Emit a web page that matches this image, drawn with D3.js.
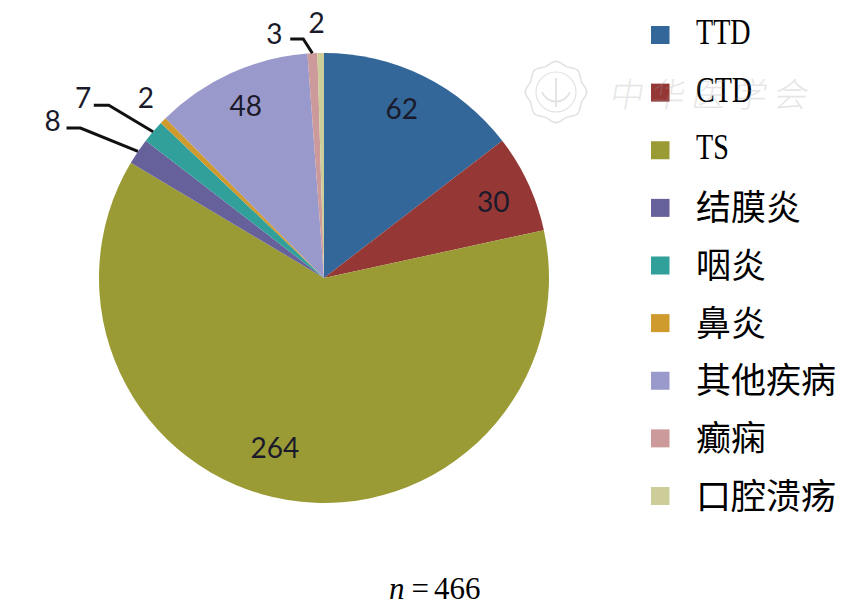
<!DOCTYPE html>
<html><head><meta charset="utf-8">
<script src="https://cdn.jsdelivr.net/npm/d3@7/dist/d3.min.js"></script>
<style>html,body{margin:0;padding:0;background:#fff}svg{display:block}</style>
</head><body><svg id="c" width="867" height="616"></svg>
<script>
const categories = ["TTD","CTD","TS","结膜炎","咽炎","鼻炎","其他疾病","癫痫","口腔溃疡"];
const values = [62,30,264,8,7,2,48,3,2];
const colors = ["#336699","#953735","#9a9b35","#66609b","#31a09b","#cf9a2e","#9a99cb","#cc9a9a","#cdcd9a"];
const footnote = "466";
const watermark = ["中","华","医","学","会"];

// layout only (polar label placement relative to each slice's mid-angle)
const labelR = [187,186,176,314,301,254,190,250,256];
const labelShift = [-1.6,.4,6.9,-4,-3.7,1.1,.2,-8.5,-.8];
const leaderAt = {3:{r:286,s:-2.6,stub:14},4:{r:276,s:-1.8,stub:15},7:{r:240,s:-2,stub:13}};
const cx=324, cy=278, R=225;

const svg=d3.select("#c");
const toDeg=180/Math.PI, rad=Math.PI/180;
const polar=(r,deg)=>[cx+r*Math.sin(deg*rad), cy-r*Math.cos(deg*rad)];

// watermark seal (under everything)
const wm=svg.append("g").attr("stroke","#e2e2e2").attr("fill","none");
const scallop=d3.lineRadial().curve(d3.curveCardinalClosed)
  .angle(d=>d*rad).radius(d=>29+1.6*Math.cos(d*8*rad));
wm.append("path").attr("transform","translate(556,92)").attr("stroke-width",1.6)
  .attr("d",scallop(d3.range(0,360,5)));
wm.append("circle").attr("cx",556).attr("cy",92).attr("r",20).attr("stroke-width",1.2);
wm.append("path").attr("stroke-width",1.8).attr("d","M542 92 A15 15 0 0 0 570 92 M556 78 V107");
const wx=d3.scalePoint().domain(watermark).range([628,792]);

const pie=d3.pie().sort(null).value(d=>d)(values);
const arc=d3.arc().innerRadius(0).outerRadius(R);
const g=svg.append("g").attr("transform",`translate(${cx},${cy})`);
g.selectAll("path").data(pie).join("path").attr("d",arc).attr("fill",(d,i)=>colors[i]);

const mid=d=>(d.startAngle+d.endAngle)/2*toDeg;

// leaders
const line=d3.line();
Object.keys(leaderAt).forEach(k=>{
  const i=+k, o=leaderAt[k], a=mid(pie[i]);
  const p0=polar(R,a), p1=polar(o.r,a+o.s), p2=[p1[0]-o.stub,p1[1]];
  svg.append("path").attr("d",line([p0,p1,p2])).attr("fill","none")
     .attr("stroke","#111").attr("stroke-width",3);
});

// value labels
svg.selectAll("text.v").data(pie).join("text").attr("class","v")
  .attr("x",(d,i)=>polar(labelR[i],mid(d)+labelShift[i])[0])
  .attr("y",(d,i)=>polar(labelR[i],mid(d)+labelShift[i])[1])
  .attr("text-anchor","middle").attr("dominant-baseline","central")
  .attr("font-family","Lato, 'Open Sans', sans-serif").attr("font-size",28)
  .attr("fill","#1a1a2a").text(d=>d.data);

// legend
const ly=d3.scalePoint().domain(categories).range([35,496]);
const isLatin=d=>/^[A-Z]+$/.test(d);
const lg=svg.append("g");
lg.selectAll("rect").data(categories).join("rect")
  .attr("x",651).attr("y",d=>ly(d)-9).attr("width",18.5).attr("height",18)
  .attr("fill",(d,i)=>colors[i]);
lg.selectAll("text").data(categories).join("text")
  .attr("transform",d=>isLatin(d)?`translate(696,${ly(d)+9}) scale(.78,1)`:`translate(696,${ly(d)-3})`)
  .attr("dominant-baseline",d=>isLatin(d)?"auto":"central")
  .attr("font-family",d=>isLatin(d)?"'Liberation Serif',serif":"'Noto Sans CJK SC',sans-serif")
  .attr("font-size",d=>isLatin(d)?36:35)
  .attr("fill","#000").text(d=>d);

// footnote
const fn=svg.append("text").attr("x",389).attr("y",599)
  .attr("font-family","'Liberation Serif',serif").attr("font-size",31).attr("fill","#000");
fn.append("tspan").attr("font-style","italic").text("n");
fn.append("tspan").attr("dx",7).text("=");
fn.append("tspan").attr("dx",5).text(footnote);

// watermark characters
svg.append("g").selectAll("text").data(watermark).join("text")
  .attr("transform",d=>`translate(${wx(d)},92) skewX(-10)`)
  .attr("text-anchor","middle").attr("dominant-baseline","central")
  .attr("font-family","'Noto Sans CJK SC',sans-serif").attr("font-weight",300).attr("font-size",34)
  .attr("fill","#999").attr("fill-opacity",.25).text(d=>d);
</script></body></html>
